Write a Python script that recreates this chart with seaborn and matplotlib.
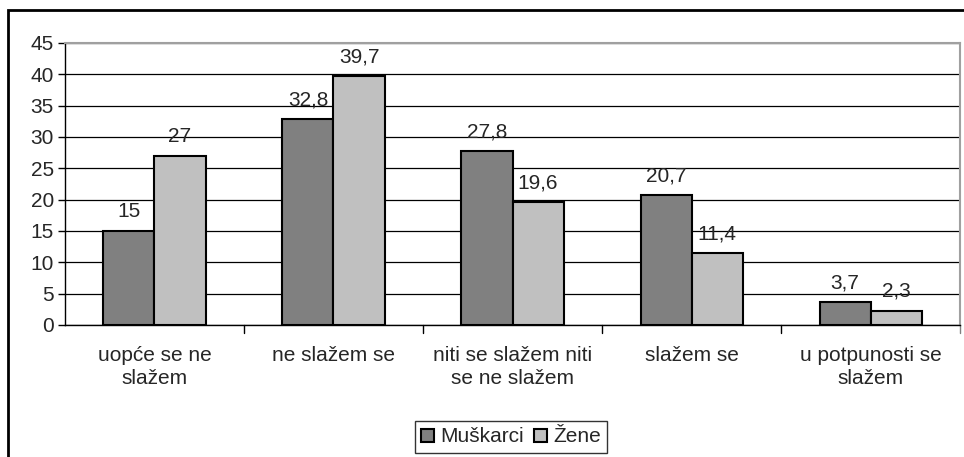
import pandas as pd
import matplotlib
matplotlib.use("Agg")
import matplotlib.pyplot as plt
from matplotlib.patches import Rectangle
import seaborn as sns

# data
categories = ["uopće se ne\nslažem", "ne slažem se", "niti se slažem niti\nse ne slažem",
              "slažem se", "u potpunosti se\nslažem"]
muskarci = [15, 32.8, 27.8, 20.7, 3.7]
zene = [27, 39.7, 19.6, 11.4, 2.3]
groups = ["Muškarci", "Žene"]

df = pd.DataFrame({
    "kategorija": categories * 2,
    "postotak": muskarci + zene,
    "spol": [groups[0]] * len(categories) + [groups[1]] * len(categories),
})

sns.set_style("white")
plt.rcParams["font.family"] = ["Liberation Sans", "DejaVu Sans"]
FS = 15

fig = plt.figure(figsize=(9.64, 4.57), dpi=100)
ax = fig.add_axes([0.0674, 0.289, 0.9285, 0.617])

# outer frame of the chart object (cut off at right/bottom like the reference)
fig.patches.append(Rectangle((8 / 964, -0.05), 1.2, 1 - 10 / 457 + 0.05, transform=fig.transFigure,
                             fill=False, edgecolor="black", linewidth=2, zorder=0))

ax.set_axisbelow(True)
ax.yaxis.grid(True, color="black", linewidth=0.9)
sns.barplot(data=df, x="kategorija", y="postotak", hue="spol", palette=["#808080", "#c0c0c0"],
            width=0.57, edgecolor="black", linewidth=1.5, saturation=1, ax=ax, legend=True)

for cont in ax.containers:
    ax.bar_label(cont, labels=[f"{v:g}".replace(".", ",") for v in cont.datavalues],
                 padding=7, fontsize=FS)

ax.set_ylim(0, 45)
ax.set_yticks(range(0, 46, 5))
ax.set_xlim(-0.5, 4.5)
ax.set_xlabel("")
ax.set_ylabel("")
ax.tick_params(axis="y", left=True, length=5, width=1, labelsize=FS, pad=3, color="black")
ax.tick_params(axis="x", bottom=False, labelsize=FS, pad=12)
for t in ax.get_xticklabels():
    t.set_linespacing(1.25)
# category boundary tick marks
for b in [0.5, 1.5, 2.5, 3.5]:
    ax.plot([b, b], [0, -0.03], transform=ax.get_xaxis_transform(), color="black",
            linewidth=1, clip_on=False)
ax.plot([4.5, 4.5], [0, -0.03], transform=ax.get_xaxis_transform(), color="#808080",
        linewidth=1, clip_on=False)

for s in ["left", "bottom"]:
    ax.spines[s].set_color("black")
    ax.spines[s].set_linewidth(1)
for s in ["top", "right"]:
    ax.spines[s].set_color("#a0a0a0")
    ax.spines[s].set_linewidth(1.5)

leg = ax.legend(loc="center", bbox_to_anchor=(511 / 964, 1 - 437 / 457), bbox_transform=fig.transFigure,
                ncol=2, frameon=True, fancybox=False, edgecolor="black", fontsize=FS,
                handlelength=0.6, handleheight=0.6, handletextpad=0.3, columnspacing=0.5,
                borderpad=0.3)
leg.get_frame().set_linewidth(1)

fig.savefig("out.png", dpi=100)
